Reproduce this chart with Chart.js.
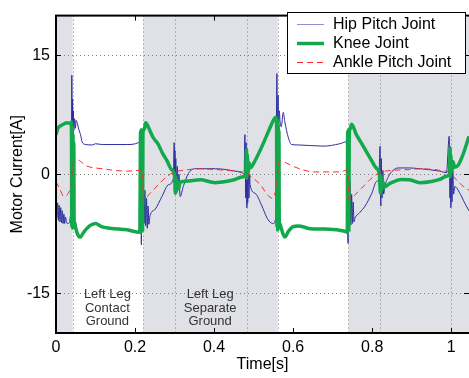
<!DOCTYPE html>
<html><head><meta charset="utf-8">
<script src="https://cdn.jsdelivr.net/npm/chart.js@4/dist/chart.umd.min.js"></script>
<style>html,body{margin:0;padding:0;background:#fff;overflow:hidden}#wrap{width:469px;height:378px}</style>
</head><body><div id="wrap"><canvas id="c" width="469" height="378"></canvas></div>
<script>
// ---- data ----
const hipT = [0,0.002,0.004,0.006,0.008,0.010,0.012,0.014,0.016,0.018,
0.020,0.022,0.024,0.027,0.030,0.034,0.037,0.039,0.040,0.041,
0.042,0.043,0.044,0.045,0.047,0.049,0.051,0.054,0.058,0.062,
0.066,0.075,0.092,0.100,0.117,0.180,0.209,0.214,0.216,0.217,
0.219,0.221,0.223,0.225,0.227,0.229,0.231,0.233,0.235,0.238,
0.251,0.268,0.285,0.297,0.299,0.300,0.301,0.302,0.303,0.305,
0.307,0.309,0.311,0.314,0.322,0.335,0.352,0.403,0.453,0.470,
0.476,0.478,0.480,0.481,0.483,0.484,0.485,0.487,0.488,0.490,
0.491,0.504,0.521,0.533,0.541,0.550,0.556,0.559,0.560,0.562,
0.563,0.565,0.567,0.570,0.575,0.579,0.588,0.596,0.613,0.676,
0.718,0.735,0.739,0.740,0.742,0.744,0.746,0.748,0.750,0.752,
0.754,0.756,0.769,0.782,0.799,0.811,0.817,0.820,0.821,0.822,
0.823,0.825,0.827,0.829,0.832,0.841,0.853,0.866,0.895,0.921,
0.971,0.988,0.995,0.997,0.998,0.999,1.000,1.002,1.004,1.006,
1.009,1.022,1.034,1.045];
const hipCurrent = [-3.2,-5.5,-3.6,-5.8,-3.9,-6.0,-4.2,-6.1,-4.6,-6.2,
-5.0,-6.2,-5.4,-6.1,-6.2,-6.1,-5.2,-4.5,12.5,4.0,
9.5,5.0,8.0,5.5,7.0,5.8,6.8,6.4,5.6,5.0,
4.1,3.75,3.7,3.85,3.75,3.75,4.0,4.2,-8.9,-1.0,
-6.0,-0.7,-6.2,-2.0,-6.5,-3.0,-6.8,-4.0,-6.3,-5.2,
-4.4,-2.8,-1.3,-0.5,4.0,-2.0,3.0,-2.4,2.0,-1.5,
1.0,-2.0,0.0,-2.8,-1.55,0.1,0.7,0.7,0.4,0.2,
0.0,5.0,-3.0,4.0,-4.2,2.5,-3.6,1.3,-3.0,0.0,
-1.3,-2.4,-4.0,-5.4,-6.0,-6.2,-5.4,12.7,3.0,10.0,
4.5,8.0,6.6,6.0,7.8,6.6,4.6,3.75,3.7,3.55,
3.85,4.1,-8.7,-0.5,-6.0,-1.0,-6.4,-2.5,-6.2,-3.5,
-6.0,-5.6,-4.8,-4.0,-2.4,-0.9,-0.5,3.55,-2.0,-4.0,
2.0,-3.0,0.5,-2.5,-1.55,-0.3,0.5,0.8,0.8,0.7,
0.4,0.2,4.8,-3.0,3.5,-4.2,2.0,-3.5,1.0,-2.5,
-1.55,-2.4,-3.6,-4.6];

const kneeT = [0,0.005,0.015,0.028,0.036,0.039,0.040,0.041,0.042,0.043,
0.044,0.045,0.046,0.047,0.050,0.055,0.062,0.070,0.085,0.100,
0.115,0.137,0.180,0.212,0.214,0.215,0.216,0.217,0.218,0.219,
0.220,0.222,0.224,0.227,0.235,0.245,0.259,0.270,0.281,0.292,
0.300,0.302,0.303,0.304,0.306,0.310,0.314,0.322,0.340,0.365,
0.403,0.430,0.453,0.473,0.480,0.482,0.483,0.484,0.486,0.488,
0.491,0.499,0.521,0.541,0.550,0.556,0.558,0.559,0.560,0.561,
0.562,0.563,0.564,0.565,0.566,0.570,0.575,0.579,0.588,0.600,
0.613,0.643,0.680,0.718,0.735,0.737,0.738,0.739,0.740,0.741,
0.742,0.743,0.745,0.748,0.760,0.772,0.786,0.799,0.810,0.818,
0.821,0.822,0.824,0.827,0.830,0.845,0.874,0.895,0.921,0.950,
0.971,0.990,0.996,0.997,0.998,0.999,1.001,1.004,1.009,1.017,
1.030,1.045];
const kneeCurrent = [5.0,5.8,6.2,6.5,6.4,6.6,-6.5,6.0,-6.8,5.0,
-6.5,4.0,-6.6,-6.0,-6.8,-7.6,-7.9,-7.3,-6.5,-6.2,
-6.6,-6.8,-7.0,-7.3,5.4,-7.3,5.6,-7.2,5.5,-7.0,
5.2,5.6,5.8,6.5,5.8,4.7,3.75,2.6,1.7,0.6,
-0.1,-2.4,-0.3,-2.2,-0.8,-1.8,-1.0,-0.9,-0.8,-0.7,
-1.05,-0.9,-0.65,-0.3,0.0,3.1,-0.5,2.5,0.2,1.5,
0.8,1.3,3.5,5.8,6.8,7.2,6.9,-6.5,6.8,-7.0,
6.2,-6.8,5.5,-6.5,-6.2,-6.8,-7.6,-7.9,-7.2,-6.6,
-6.5,-6.85,-6.9,-7.05,-7.25,-7.3,5.4,-7.2,5.6,-7.0,
5.3,5.6,5.8,6.3,5.0,4.0,2.8,1.7,0.8,0.1,
-2.4,-0.2,-2.0,-0.9,-1.6,-1.15,-0.65,-0.7,-1.05,-0.9,
-0.65,-0.2,0.1,3.3,-0.3,2.4,0.3,1.6,0.9,1.1,
2.5,4.8];

const ankleT = [0,0.010,0.020,0.031,0.037,0.039,0.041,0.043,0.049,0.055,
0.075,0.117,0.180,0.213,0.219,0.221,0.238,0.259,0.281,0.301,
0.322,0.365,0.403,0.453,0.478,0.499,0.521,0.529,0.537,0.546,
0.554,0.558,0.561,0.563,0.567,0.575,0.605,0.655,0.718,0.735,
0.738,0.741,0.756,0.782,0.803,0.824,0.853,0.895,0.921,0.971,
0.996,1.017,1.036,1.045];
const ankleCurrent = [-0.9,-1.9,-2.8,-2.4,-1.6,-1.0,0.5,1.2,1.7,1.8,
1.1,0.7,0.4,0.5,0.4,-3.2,-2.4,-1.3,-0.25,0.3,
0.5,0.7,0.6,0.4,0.2,-0.5,-1.55,-2.2,-2.7,-3.0,
-2.4,-1.5,0.0,1.2,1.7,1.6,0.9,0.3,0.3,0.5,
0.4,-3.2,-2.6,-1.3,-0.3,0.3,0.5,0.6,0.7,0.5,
0.2,-0.9,-1.75,-2.0];

const seriesNames = ["Hip Pitch Joint","Knee Joint","Ankle Pitch Joint"];
const xTickValues = [0,0.2,0.4,0.6,0.8,1];
const xTickLabels = ["0","0.2","0.4","0.6","0.8","1"];
const yTickValues = [-15,0,15];
const yTickLabels = ["-15","0","15"];
const eventTimes = [0.042,0.221,0.30,0.483,0.561,0.74,0.82,1.0];
const shadedSpans = [[0,0.042],[0.221,0.561],[0.74,1.045]];
const phaseLabels = [["Left Leg","Contact","Ground"],["Left Leg","Separate","Ground"]];
const phaseLabelX = [0.13,0.39];
const phaseLabelY = [-15.2,-16.85,-18.5];
const xRange = [0,1.045];
const yRange = [-20,20];

const pts = (t,v)=>t.map((tt,i)=>({x:tt,y:v[i]}));
const FONT = '"Liberation Sans", Arial, Helvetica, sans-serif';

function seg(ctx,x0,y0,x1,y1){ctx.beginPath();ctx.moveTo(x0,y0);ctx.lineTo(x1,y1);ctx.stroke();}

const decor = {
  id:'decor',
  beforeDatasetsDraw(chart){
    const {ctx, chartArea:a, scales:{x,y}} = chart;
    ctx.save();
    ctx.fillStyle='#e0e1e6';
    shadedSpans.forEach(([s,e])=>{
      const x0=Math.max(a.left,x.getPixelForValue(s)), x1=Math.min(a.right,x.getPixelForValue(e));
      ctx.fillRect(x0,a.top,x1-x0,a.height);
    });
    ctx.strokeStyle='#7d7d7d'; ctx.lineWidth=1; ctx.setLineDash([1,3]);
    yTickValues.forEach(v=>{const py=Math.round(y.getPixelForValue(v))+0.5; seg(ctx,a.left,py,a.right,py);});
    eventTimes.forEach(t=>{const px=Math.round(x.getPixelForValue(t))+0.5; seg(ctx,px,a.top,px,a.bottom);});
    ctx.restore();
  },
  afterDatasetsDraw(chart){
    const {ctx, chartArea:a, scales:{x,y}} = chart;
    ctx.save();
    ctx.fillStyle='#333'; ctx.font='13px '+FONT; ctx.textAlign='center'; ctx.textBaseline='middle';
    phaseLabels.forEach((lines,i)=>{
      lines.forEach((s,j)=>ctx.fillText(s, x.getPixelForValue(phaseLabelX[i]), y.getPixelForValue(phaseLabelY[j])));
    });
    ctx.strokeStyle='#000'; ctx.lineWidth=2; ctx.setLineDash([]);
    ctx.strokeRect(a.left,a.top,a.width+4,a.height);
    ctx.lineWidth=1;
    xTickValues.forEach(v=>{const px=Math.round(x.getPixelForValue(v))+0.5;
      seg(ctx,px,a.bottom,px,a.bottom-5); seg(ctx,px,a.top,px,a.top+5);});
    yTickValues.forEach(v=>{const py=Math.round(y.getPixelForValue(v))+0.5;
      seg(ctx,a.left,py,a.left+5,py); seg(ctx,a.right,py,a.right-5,py);});
    const L={x:287.5,y:12.5,w:178,h:61};
    ctx.fillStyle='#fff'; ctx.fillRect(L.x,L.y,L.w,L.h);
    ctx.strokeStyle='#000'; ctx.lineWidth=1; ctx.strokeRect(L.x,L.y,L.w,L.h);
    ctx.font='16px '+FONT; ctx.textAlign='left'; ctx.textBaseline='middle';
    const rowY=[24,43,62];
    seriesNames.forEach((name,i)=>{
      const ds=chart.data.datasets.find(d=>d.label===name);
      ctx.strokeStyle=ds.legendColor||ds.borderColor; ctx.lineWidth=ds.borderWidth; ctx.setLineDash(ds.borderDash||[]);
      seg(ctx,297,rowY[i]+0.5,324,rowY[i]+0.5);
      ctx.setLineDash([]); ctx.fillStyle='#000';
      ctx.fillText(name,333,rowY[i]+1);
    });
    ctx.fillStyle='#000'; ctx.font='16px '+FONT; ctx.textAlign='center'; ctx.textBaseline='alphabetic';
    ctx.fillText('Time[s]',(a.left+a.right)/2,369);
    ctx.translate(22,(a.top+a.bottom)/2); ctx.rotate(-Math.PI/2);
    ctx.fillText('Motor Current[A]',0,0);
    ctx.restore();
  }
};

new Chart(document.getElementById('c'),{
  type:'scatter',
  data:{datasets:[
    {label:seriesNames[2], data:pts(ankleT,ankleCurrent), showLine:true, borderColor:'#ff2a2a', borderWidth:1, borderDash:[6,4], pointRadius:0, cubicInterpolationMode:'monotone', order:1},
    {label:seriesNames[1], data:pts(kneeT,kneeCurrent), showLine:true, borderColor:'#12a84c', borderWidth:3.5, pointRadius:0, cubicInterpolationMode:'monotone', order:2},
    {label:seriesNames[0], data:pts(hipT,hipCurrent), showLine:true, borderColor:'#2b2f9e', legendColor:'#8f92c8', borderWidth:1, pointRadius:0, cubicInterpolationMode:'monotone', order:3}
  ]},
  options:{
    responsive:false, animation:false, devicePixelRatio:1,
    layout:{padding:{top:8,right:0,left:0,bottom:0}},
    plugins:{legend:{display:false},tooltip:{enabled:false}},
    scales:{
      x:{type:'linear',min:xRange[0],max:xRange[1],
        afterBuildTicks:s=>{s.ticks=xTickValues.map(v=>({value:v}));},
        afterFit:s=>{s.height=45;},
        grid:{display:false,drawTicks:false},border:{display:false},
        ticks:{color:'#000',font:{family:FONT,size:16},padding:5,maxRotation:0,autoSkip:false,
          callback:(v)=>xTickLabels[xTickValues.indexOf(v)]}},
      y:{type:'linear',min:yRange[0],max:yRange[1],
        afterBuildTicks:s=>{s.ticks=yTickValues.map(v=>({value:v}));},
        afterFit:s=>{s.width=56;},
        grid:{display:false,drawTicks:false},border:{display:false},
        ticks:{color:'#000',font:{family:FONT,size:16},padding:6,autoSkip:false,
          callback:(v)=>yTickLabels[yTickValues.indexOf(v)]}}
    }
  },
  plugins:[decor]
});
</script>
</body></html>
